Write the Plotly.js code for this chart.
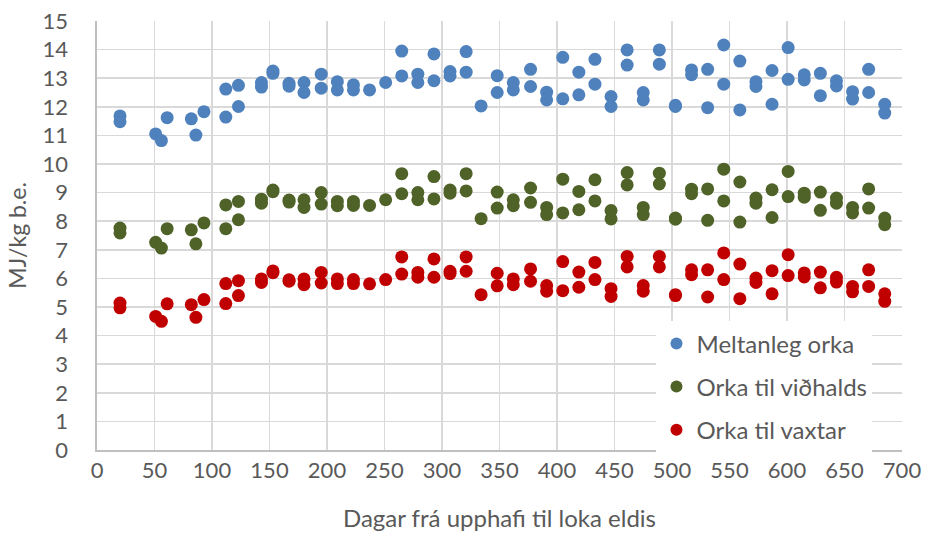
<!DOCTYPE html>
<html>
<head>
<meta charset="utf-8">
<script src="https://cdn.plot.ly/plotly-3.0.1.min.js"></script>
<style>html,body{margin:0;padding:0;background:#fff;}#chart{width:925px;height:537px;}</style>
</head>
<body>
<div id="chart"></div>
<script>
const days = [20,20,51,56,61,82,86,93,112,112,123,123,143,143,153,153,167,167,180,180,195,195,209,209,223,223,237,251,265,265,279,279,293,293,307,307,321,321,334,348,348,362,362,377,377,391,391,405,405,419,419,433,433,447,447,461,461,475,475,489,489,503,503,517,517,531,531,545,545,559,559,573,573,587,587,601,601,615,615,629,629,643,643,657,657,671,671,685,685];

const meltanleg = [11.68,11.48, 11.05, 10.82, 11.62, 11.58, 11.01, 11.83, 12.62,11.64, 12.75,12.01, 12.85,12.69, 13.25,13.17, 12.82,12.72, 12.85,12.50, 13.14,12.65, 12.88,12.59, 12.77,12.59, 12.59, 12.85, 13.95,13.08, 13.14,12.85, 13.85,12.91, 13.23,13.08, 13.93,13.21, 12.03, 13.09,12.50, 12.85,12.59, 13.31,12.71, 12.51,12.24, 13.73,12.28, 13.21,12.42, 13.66,12.79, 12.36,12.01, 13.99,13.46, 12.50,12.24, 13.99,13.49, 12.05,12.01, 13.29,13.12, 13.31,11.97, 14.16,12.79, 13.60,11.89, 12.88,12.71, 13.27,12.09, 14.07,12.96, 13.12,12.94, 13.17,12.39, 12.91,12.73, 12.53,12.27, 13.31,12.50, 12.09,11.78];

const vidhald = [7.76,7.59, 7.26, 7.06, 7.74, 7.70, 7.21, 7.94, 8.57,7.74, 8.69,8.05, 8.77,8.63, 9.09,9.03, 8.74,8.67, 8.75,8.48, 9.00,8.60, 8.69,8.54, 8.69,8.55, 8.55, 8.75, 9.66,8.96, 9.00,8.75, 9.56,8.78, 9.09,8.98, 9.66,9.06, 8.09, 9.02,8.46, 8.75,8.54, 9.16,8.66, 8.48,8.23, 9.47,8.29, 9.04,8.40, 9.45,8.71, 8.37,8.08, 9.70,9.27, 8.48,8.23, 9.68,9.30, 8.11,8.07, 9.12,8.96, 9.13,8.03, 9.82,8.71, 9.37,7.97, 8.81,8.63, 9.10,8.13, 9.74,8.86, 8.98,8.84, 9.02,8.38, 8.81,8.63, 8.48,8.29, 9.13,8.46, 8.11,7.88];

const vaxtar = [5.14,4.97, 4.67, 4.50, 5.11, 5.08, 4.64, 5.26, 5.82,5.12, 5.92,5.40, 5.98,5.86, 6.26,6.20, 5.95,5.90, 5.98,5.78, 6.21,5.84, 5.98,5.82, 5.96,5.82, 5.81, 5.96, 6.75,6.15, 6.21,6.04, 6.68,6.04, 6.25,6.17, 6.75,6.25, 5.43, 6.18,5.74, 5.98,5.78, 6.33,5.90, 5.75,5.55, 6.59,5.57, 6.22,5.69, 6.56,5.96, 5.64,5.37, 6.77,6.40, 5.75,5.55, 6.77,6.40, 5.43,5.40, 6.30,6.13, 6.30,5.35, 6.89,5.96, 6.50,5.29, 6.01,5.86, 6.27,5.46, 6.83,6.10, 6.19,6.05, 6.22,5.67, 6.04,5.87, 5.72,5.53, 6.30,5.72, 5.46,5.20];

const seriesNames = ["Meltanleg orka", "Orka til viðhalds", "Orka til vaxtar"];
const seriesColors = ["#4F81BD", "#4F6228", "#C00000"];
const seriesValues = [meltanleg, vidhald, vaxtar];

const FONT = "Lato, 'Open Sans', sans-serif";
const TXT = "#595959";

const traces = seriesValues.map((vals, i) => ({
  type: "scatter",
  mode: "markers",
  name: seriesNames[i],
  legendgroup: "g" + i,
  x: days,
  y: vals,
  marker: {color: seriesColors[i], size: 13, line: {width: 0}},
  cliponaxis: false
}));

const layout = {
  width: 925,
  height: 537,
  margin: {l: 97, r: 23, t: 21, b: 87},
  paper_bgcolor: "#ffffff",
  plot_bgcolor: "#ffffff",
  font: {family: FONT, color: TXT, size: 22},
  showlegend: true,
  legend: {
    x: 0.695, y: 0.30, xanchor: "left", yanchor: "top",
    bgcolor: "#ffffff",
    font: {family: FONT, size: 24, color: TXT},
    traceorder: "grouped",
    tracegroupgap: 9,
    itemwidth: 30,
    itemsizing: "constant",
    borderwidth: 0
  },
  xaxis: {
    range: [0, 700],
    dtick: 50,
    tick0: 0,
    showgrid: true,
    gridcolor: "#d9d9d9",
    gridwidth: 1.5,
    zeroline: false,
    showline: true,
    linecolor: "#bfbfbf",
    linewidth: 2,
    ticks: "",
    tickfont: {family: FONT, size: 22, color: TXT},
    title: {text: "Dagar frá upphafi til loka eldis", font: {family: FONT, size: 24, color: TXT}, standoff: 28}
  },
  yaxis: {
    range: [0, 15],
    dtick: 1,
    tick0: 0,
    showgrid: true,
    gridcolor: "#d9d9d9",
    gridwidth: 1.5,
    zeroline: false,
    showline: true,
    linecolor: "#bfbfbf",
    linewidth: 2.5,
    ticks: "",
    ticklabelstandoff: 22,
    tickfont: {family: FONT, size: 22, color: TXT},
    title: {text: "MJ/kg b.e.", font: {family: FONT, size: 23, color: TXT}, standoff: 10}
  }
};

Plotly.newPlot("chart", traces, layout, {displayModeBar: false, staticPlot: true});
</script>
</body>
</html>
